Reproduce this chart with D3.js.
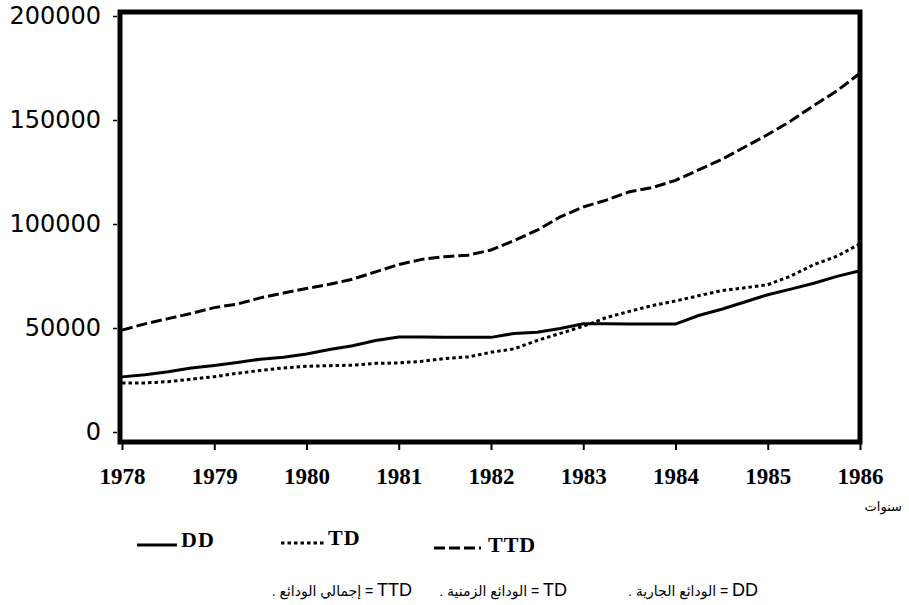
<!DOCTYPE html>
<html>
<head>
<meta charset="utf-8">
<script src="https://cdn.jsdelivr.net/npm/d3@7"></script>
<style>
  html, body { margin: 0; padding: 0; background: #fff; }
  svg { display: block; }
</style>
</head>
<body>
<svg id="chart" width="909" height="605"></svg>
<script>
// ---- data ----
const years = [1978, 1978.25, 1978.5, 1978.75, 1979, 1979.25, 1979.5, 1979.75,
               1980, 1980.25, 1980.5, 1980.75, 1981, 1981.25, 1981.5, 1981.75,
               1982, 1982.25, 1982.5, 1982.75, 1983, 1983.25, 1983.5, 1983.75,
               1984, 1984.25, 1984.5, 1984.75, 1985, 1985.25, 1985.5, 1985.75, 1986];
const ddValues = [26500, 27500, 29000, 30800, 32000, 33400, 35000, 35900,
                  37500, 39700, 41500, 44000, 45700, 45700, 45600, 45500,
                  45500, 47400, 48000, 49800, 52000, 52000, 51900, 51900,
                  51900, 56000, 59000, 62500, 66000, 68700, 71500, 74800, 77500];
const tdValues = [23600, 23600, 24200, 25400, 26600, 28200, 29600, 30800,
                  31600, 31900, 32100, 33000, 33200, 34000, 35300, 36100,
                  38300, 40000, 44000, 47400, 50800, 55000, 58000, 60800,
                  63000, 65500, 68000, 69300, 70800, 75000, 80500, 84500, 90500];
const ttdValues = [49000, 52000, 54500, 57000, 59800, 61500, 64500, 66800,
                   69000, 71000, 73500, 77000, 80500, 83000, 84300, 85000,
                   87500, 92000, 97000, 103400, 108200, 111500, 115500, 117500,
                   121000, 126000, 131000, 137000, 143000, 149500, 157000, 164000, 172500];
const xTickYears = [1978, 1979, 1980, 1981, 1982, 1983, 1984, 1985, 1986];
const yTickValues = [0, 50000, 100000, 150000, 200000];
const seriesNames = ["DD", "TD", "TTD"];
const notes = ["DD = الودائع الجارية .", "TD = الودائع الزمنية .", "TTD = إجمالي الودائع ."];
const xAxisTitle = "سنوات";

// ---- drawing ----
const svg = d3.select("#chart");
const x = d3.scaleLinear().domain([1978, 1986]).range([122, 860]);
const y = d3.scaleLinear().domain([0, 200000]).range([432, 16]);

// frame
svg.append("rect")
  .attr("x", 120).attr("y", 12).attr("width", 740).attr("height", 430)
  .attr("fill", "none").attr("stroke", "#000").attr("stroke-width", 5);

// y axis ticks + labels
const yAxis = d3.axisLeft(y).tickValues(yTickValues).tickSize(4).tickPadding(12)
  .tickFormat(d3.format("d"));
const gy = svg.append("g").attr("transform", "translate(117,0)").call(yAxis);
gy.select(".domain").remove();
gy.selectAll("line").attr("stroke", "#000").attr("stroke-width", 1.5);
gy.selectAll("text")
  .attr("font-family", "'DejaVu Sans', sans-serif")
  .attr("font-size", 24).attr("fill", "#000");

// x axis ticks + labels
const xAxis = d3.axisBottom(x).tickValues(xTickYears).tickSize(7).tickPadding(18)
  .tickFormat(d3.format("d"));
const gx = svg.append("g").attr("transform", "translate(0,443)").call(xAxis);
gx.select(".domain").remove();
gx.selectAll("line").attr("stroke", "#000").attr("stroke-width", 2);
gx.selectAll("text")
  .attr("font-family", "'Liberation Serif', 'Times New Roman', serif")
  .attr("font-weight", "bold").attr("font-size", 23).attr("fill", "#000");

// lines
const seriesData = [ddValues, tdValues, ttdValues];
const dashes = [null, "3.5,3", "11,4"];
const line = d3.line().x((d, i) => x(years[i])).y(d => y(d));
seriesData.forEach((vals, k) => {
  svg.append("path")
    .datum(vals)
    .attr("d", line)
    .attr("fill", "none")
    .attr("stroke", "#000")
    .attr("stroke-width", 3)
    .attr("stroke-dasharray", dashes[k]);
});

// x axis title
svg.append("text")
  .attr("x", 902).attr("y", 511)
  .attr("direction", "rtl").attr("text-anchor", "start")
  .attr("font-family", "'DejaVu Sans', sans-serif").attr("font-size", 13)
  .text(xAxisTitle);

// legend
const legendItems = [
  {sx: 137, ex: 177, ly: 545, tx: 181, ty: 547},
  {sx: 281, ex: 324, ly: 543, tx: 328, ty: 545},
  {sx: 434, ex: 481, ly: 548, tx: 488, ty: 552}
];
legendItems.forEach((p, k) => {
  svg.append("line")
    .attr("x1", p.sx).attr("x2", p.ex).attr("y1", p.ly).attr("y2", p.ly)
    .attr("stroke", "#000").attr("stroke-width", 3)
    .attr("stroke-dasharray", dashes[k]);
  svg.append("text")
    .attr("x", p.tx).attr("y", p.ty)
    .attr("font-family", "'Liberation Serif', 'Times New Roman', serif")
    .attr("font-weight", "bold").attr("font-size", 22)
    .attr("letter-spacing", 1)
    .text(seriesNames[k]);
});

// bottom notes (RTL)
const noteRight = [758, 567, 412];
notes.forEach((t, k) => {
  const parts = t.split(" = ");
  const txt = svg.append("text")
    .attr("x", noteRight[k]).attr("y", 596)
    .attr("direction", "rtl").attr("text-anchor", "start")
    .attr("font-family", "'Liberation Sans', 'DejaVu Sans', sans-serif")
    .attr("fill", "#000");
  txt.append("tspan").attr("font-size", 18).text(parts[0]);
  txt.append("tspan").attr("font-size", 14).text(" = " + parts[1]);
});
</script>
</body>
</html>
